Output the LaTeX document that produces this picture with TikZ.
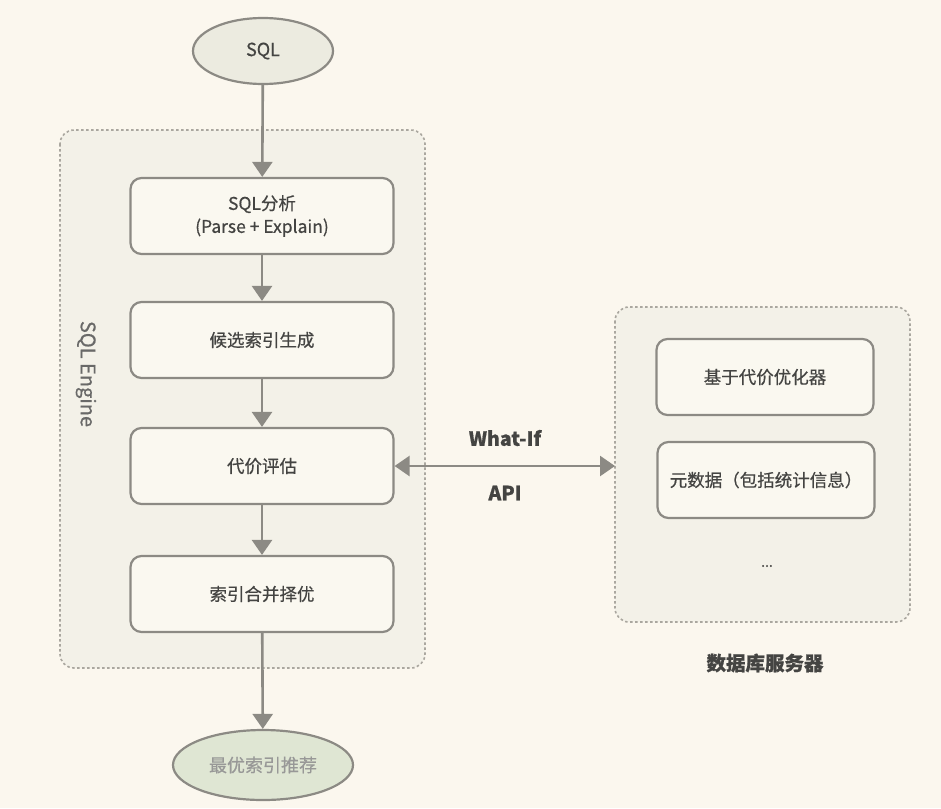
\documentclass[tikz,border=0pt]{standalone}
\usepackage{fontspec}
\setmainfont{Noto Sans CJK SC}[FakeBold=0.6]
\usetikzlibrary{arrows.meta,shapes.geometric}
\definecolor{bgc}{HTML}{FBF7EE}
\definecolor{grpfill}{HTML}{F3F1E8}
\definecolor{boxfill}{HTML}{FAF8F0}
\definecolor{linec}{HTML}{8C8A84}
\definecolor{dashc}{HTML}{AAA79F}
\definecolor{txt}{HTML}{444442}
\definecolor{ellfill}{HTML}{ECEBE0}
\definecolor{greenfill}{HTML}{DFE6D3}
\tikzset{
  group/.style={draw=dashc, line width=1.6pt, dash pattern=on 2.5pt off 2.5pt, fill=grpfill, rounded corners=14pt},
  procbox/.style={draw=linec, line width=2.2pt, fill=boxfill, rounded corners=11pt, minimum width=263pt, minimum height=76pt, font=\fontsize{17.5}{23}\selectfont, text=txt, align=center},
  srvbox/.style={draw=linec, line width=2.2pt, fill=boxfill, rounded corners=11pt, minimum width=217pt, minimum height=76pt, font=\fontsize{17.5}{22}\selectfont, text=txt, align=center},
  termnode/.style={ellipse, draw=linec, line width=2.2pt, font=\fontsize{18}{22}\selectfont, text=txt, inner sep=0pt},
  flow/.style={draw=linec, line width=2.6pt, -{Triangle[length=15pt,width=20pt]}},
  biflow/.style={draw=linec, line width=2.6pt, {Triangle[length=15pt,width=20pt]}-{Triangle[length=15pt,width=20pt]}},
  lbl/.style={font=\bfseries\fontsize{19.5}{22}\selectfont, text=txt}
}
\begin{document}
\begin{tikzpicture}[x=1pt,y=-1pt]
\fill[bgc] (0,0) rectangle (941,808);
\useasboundingbox (0,0) rectangle (941,808);
% groups
\draw[group] (60,130) rectangle (425,668);
\draw[group] (615,307) rectangle (910,622);
% nodes
\node[termnode, fill=ellfill, minimum width=140pt, minimum height=66pt] (sql) at (263,51) {SQL};
\node[procbox] (parse) at (262,216) {SQL分析\\(Parse + Explain)};
\node[procbox] (cand) at (262,340) {候选索引生成};
\node[procbox] (cost) at (262,466) {代价评估};
\node[procbox] (merge) at (262,594) {索引合并择优};
\node[termnode, fill=greenfill, text=txt!55, minimum width=180pt, minimum height=70pt] (rec) at (263,765) {最优索引推荐};
\node[srvbox] (opt) at (765,377) {基于代价优化器};
\node[srvbox] (meta) at (766,480) {元数据（包括统计信息）};
\node[font=\fontsize{14}{16}\selectfont, text=txt] (dots) at (767,566) {...};
\node[lbl] (srvlbl) at (765,663) {数据库服务器};
\node[font=\fontsize{20}{22}\selectfont, text=txt!80, rotate=-90] (eng) at (86,374) {SQL Engine};
\coordinate (srvin) at (615,466);
% connectors
\draw[flow] (sql) -- (parse);
\draw[flow] (parse) -- (cand);
\draw[flow] (cand) -- (cost);
\draw[flow] (cost) -- (merge);
\draw[flow] (merge) -- (rec);
\draw[biflow] (cost.east) -- (srvin);
\node[lbl] (whatif) at (505,438) {What-If};
\node[lbl] (api) at (505,493) {API};
\end{tikzpicture}
\end{document}
